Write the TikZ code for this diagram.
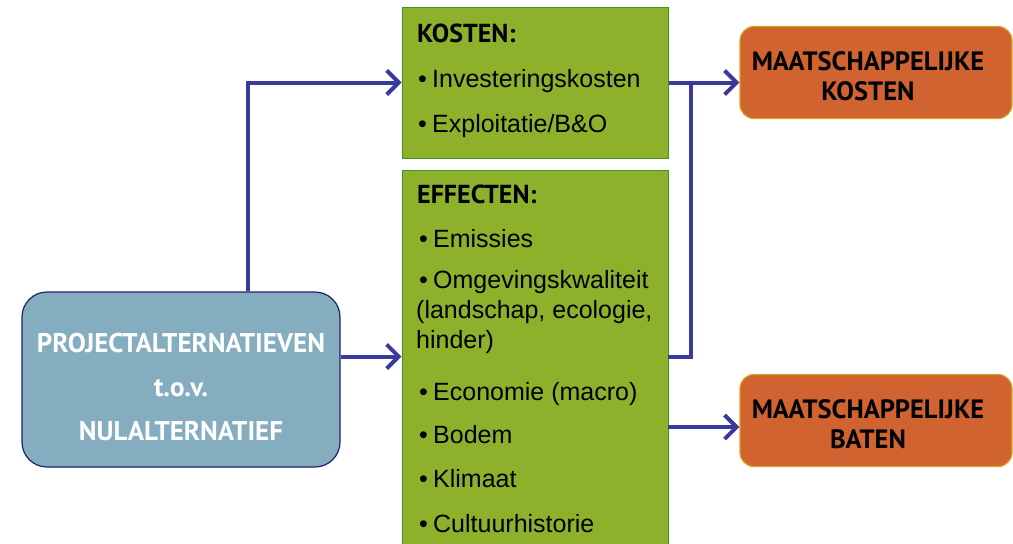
\documentclass[tikz,border=0pt]{standalone}
\usepackage{fontspec}
\setmainfont{Liberation Sans}
\newfontfamily\headfont{PT Sans}
\usetikzlibrary{arrows.meta}

\definecolor{flowblue}{RGB}{58,58,158}
\definecolor{boxgreen}{RGB}{142,177,44}
\definecolor{greenline}{RGB}{62,150,32}
\definecolor{projblue}{RGB}{132,173,191}
\definecolor{projline}{RGB}{32,32,104}
\definecolor{mkorange}{RGB}{208,99,48}
\definecolor{mkline}{RGB}{212,166,30}

\newcommand{\bul}{\makebox[14pt][l]{\textbullet}}

\tikzset{
  groenbox/.style={rectangle, draw=greenline, line width=1pt, fill=boxgreen, inner sep=0pt, minimum width=266pt},
  projbox/.style={rectangle, rounded corners=25pt, draw=projline, line width=1.2pt, fill=projblue, minimum width=318pt, minimum height=175pt, inner sep=0pt},
  mkbox/.style={rectangle, rounded corners=14pt, draw=mkline, line width=1.2pt, fill=mkorange, minimum width=272pt, minimum height=92pt, inner sep=0pt},
  kop/.style={anchor=base west, inner sep=0pt, font=\headfont\bfseries\fontsize{26}{30}\selectfont},
  item/.style={anchor=base west, inner sep=0pt, align=left, font=\fontsize{25}{30}\selectfont},
  projtxt/.style={inner sep=0pt, align=center, text=white, font=\headfont\bfseries\fontsize{27}{44}\selectfont},
  mktxt/.style={inner sep=0pt, align=center, font=\headfont\bfseries\fontsize{26.5}{30}\selectfont},
  link/.style={draw=flowblue, line width=4pt},
  flow/.style={link, -{Straight Barb[length=12pt, width=24pt]}}
}

\begin{document}
\begin{tikzpicture}[x=1pt, y=-1pt]
\useasboundingbox (0,0) rectangle (1013,544);

% === Boxes ===
\node[projbox] (Proj) at (181,379.5) {};
\node[groenbox, minimum height=151pt] (Kosten) at (535,82.5) {};
\node[groenbox, minimum height=390pt] (Effecten) at (535,365) {};
\node[mkbox] (MKKosten) at (876,72.5) {};
\node[mkbox] (MKBaten) at (876,420.5) {};

% === Texts ===
\node[projtxt] (ProjTxt) at (181,387.5) {PROJECTALTERNATIEVEN\\t.o.v.\\NULALTERNATIEF};
\node[mktxt] (MKKostenTxt) at (868,76) {MAATSCHAPPELIJKE\\KOSTEN};
\node[mktxt] (MKBatenTxt) at (868,424) {MAATSCHAPPELIJKE\\BATEN};

\node[kop] (KostenKop) at (417,42.5) {KOSTEN:};
\foreach \yy/\txt [count=\i] in {87/Investeringskosten, 132/{Exploitatie/B\&O}}{
  \node[item] (Kost-\i) at (418,\yy) {\bul\txt};
}

\node[kop] (EffectenKop) at (417,203) {EFFECTEN:};
% base of a multi-line node is its last line
\node[item] (Omgeving) at (416,348) {\hspace{3pt}\bul Omgevingskwaliteit\\(landschap, ecologie,\\hinder)};
\foreach \yy/\txt [count=\i] in {247/Emissies, 400/Economie (macro), 443/Bodem, 487/Klimaat, 532/Cultuurhistorie}{
  \node[item] (Eff-\i) at (419,\yy) {\bul\txt};
}

% === Connections ===
\coordinate (ProjUit) at ([yshift=23pt]Proj.east);
\coordinate (Knik) at ([xshift=22pt]Kosten.east);
\coordinate (EffUit) at (668,357);
\coordinate (EffBaat) at (668,427);

\draw[flow] ([xshift=67pt]Proj.north) |- (Kosten.west);
\draw[flow] (ProjUit) -- (ProjUit -| Effecten.west);
\draw[flow] (Kosten.east) -- (Kosten.east -| MKKosten.west);
\draw[link] (EffUit) -| (Knik);
\draw[flow] (EffBaat) -- (EffBaat -| MKBaten.west);
\end{tikzpicture}
\end{document}
